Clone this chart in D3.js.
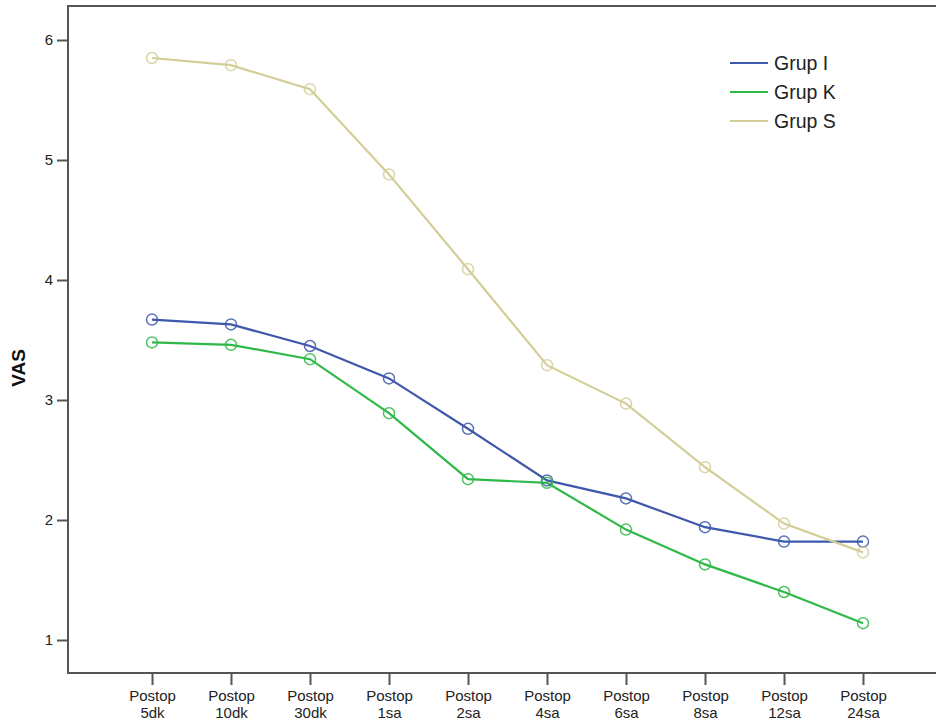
<!DOCTYPE html>
<html><head><meta charset="utf-8">
<script src="https://cdn.jsdelivr.net/npm/d3@7"></script>
<style>body{margin:0;background:#fff;} svg{display:block;}</style>
</head><body>
<svg id="c" width="936" height="724"></svg>
<script>
const categories = [["Postop","5dk"],["Postop","10dk"],["Postop","30dk"],["Postop","1sa"],["Postop","2sa"],["Postop","4sa"],["Postop","6sa"],["Postop","8sa"],["Postop","12sa"],["Postop","24sa"]];
const grupI = [3.67,3.63,3.45,3.18,2.76,2.33,2.18,1.94,1.82,1.82];
const grupK = [3.48,3.46,3.34,2.89,2.34,2.31,1.92,1.63,1.40,1.14];
const grupS = [5.85,5.79,5.59,4.88,4.09,3.29,2.97,2.44,1.97,1.73];
const yTicks = [1,2,3,4,5,6];
const seriesNames = ["Grup I","Grup K","Grup S"];
const colors = ["#3E58AC","#2EB848","#D3CE97"];
const series = [grupI, grupK, grupS];

const svg = d3.select("#c");
const pLeft = 68, pTop = 6, pBottom = 673, pRight = 940;
const y = d3.scaleLinear().domain([1, 6]).range([640, 40]);
const x = d3.scaleLinear().domain([0, categories.length - 1]).range([152, 863]);

// frame
svg.append("rect").attr("x", pLeft).attr("y", pTop).attr("width", pRight - pLeft).attr("height", pBottom - pTop)
  .attr("fill", "none").attr("stroke", "#555").attr("stroke-width", 2);

// y axis
const ya = svg.append("g").attr("transform", `translate(${pLeft},0)`)
  .call(d3.axisLeft(y).tickValues(yTicks).tickSize(11).tickPadding(4).tickFormat(d3.format("d")));
ya.select(".domain").remove();
ya.selectAll(".tick line").attr("stroke", "#555").attr("stroke-width", 2);
ya.selectAll(".tick text").attr("font-family", "Arial, 'Liberation Sans', sans-serif").attr("font-size", 15).attr("fill", "#222");

// x axis
const xa = svg.append("g").attr("transform", `translate(0,${pBottom})`)
  .call(d3.axisBottom(x).tickValues(d3.range(categories.length)).tickSize(12).tickFormat(""));
xa.select(".domain").remove();
xa.selectAll(".tick line").attr("stroke", "#555").attr("stroke-width", 2);
xa.selectAll(".tick").each(function(d) {
  const g = d3.select(this);
  g.append("text").attr("text-anchor", "middle").attr("x", 0).attr("y", 28)
    .attr("font-family", "Arial, 'Liberation Sans', sans-serif")
    .attr("font-size", 15).attr("fill", "#222").text(categories[d][0]);
  g.append("text").attr("text-anchor", "middle").attr("x", 0).attr("y", 45)
    .attr("font-family", "Arial, 'Liberation Sans', sans-serif")
    .attr("font-size", 15).attr("fill", "#222").text(categories[d][1]);
});

// y label
svg.append("text").attr("transform", "translate(25,368) rotate(-90)").attr("text-anchor", "middle")
  .attr("font-family", "Arial, 'Liberation Sans', sans-serif").attr("font-weight", "bold").attr("font-size", 19)
  .attr("fill", "#111").text("VAS");

// lines
const line = d3.line().x((d, i) => x(i)).y(d => y(d));
series.forEach((s, k) => {
  svg.append("path").datum(s).attr("d", line).attr("fill", "none")
    .attr("stroke", colors[k]).attr("stroke-width", 2.2);
});
series.forEach((s, k) => {
  svg.append("g").selectAll("circle").data(s).join("circle")
    .attr("cx", (d, i) => x(i)).attr("cy", d => y(d)).attr("r", 5.5)
    .attr("fill", "none").attr("stroke", colors[k]).attr("stroke-width", 1.5).attr("stroke-opacity", 0.85);
});

// legend
const lg = svg.append("g");
seriesNames.forEach((n, k) => {
  const ly = 63 + k * 29;
  lg.append("line").attr("x1", 730).attr("x2", 768).attr("y1", ly).attr("y2", ly)
    .attr("stroke", colors[k]).attr("stroke-width", 2.2);
  lg.append("text").attr("x", 774).attr("y", ly + 7).attr("font-family", "Arial, 'Liberation Sans', sans-serif")
    .attr("font-size", 19.5).attr("fill", "#222").text(n);
});
</script>
</body></html>
